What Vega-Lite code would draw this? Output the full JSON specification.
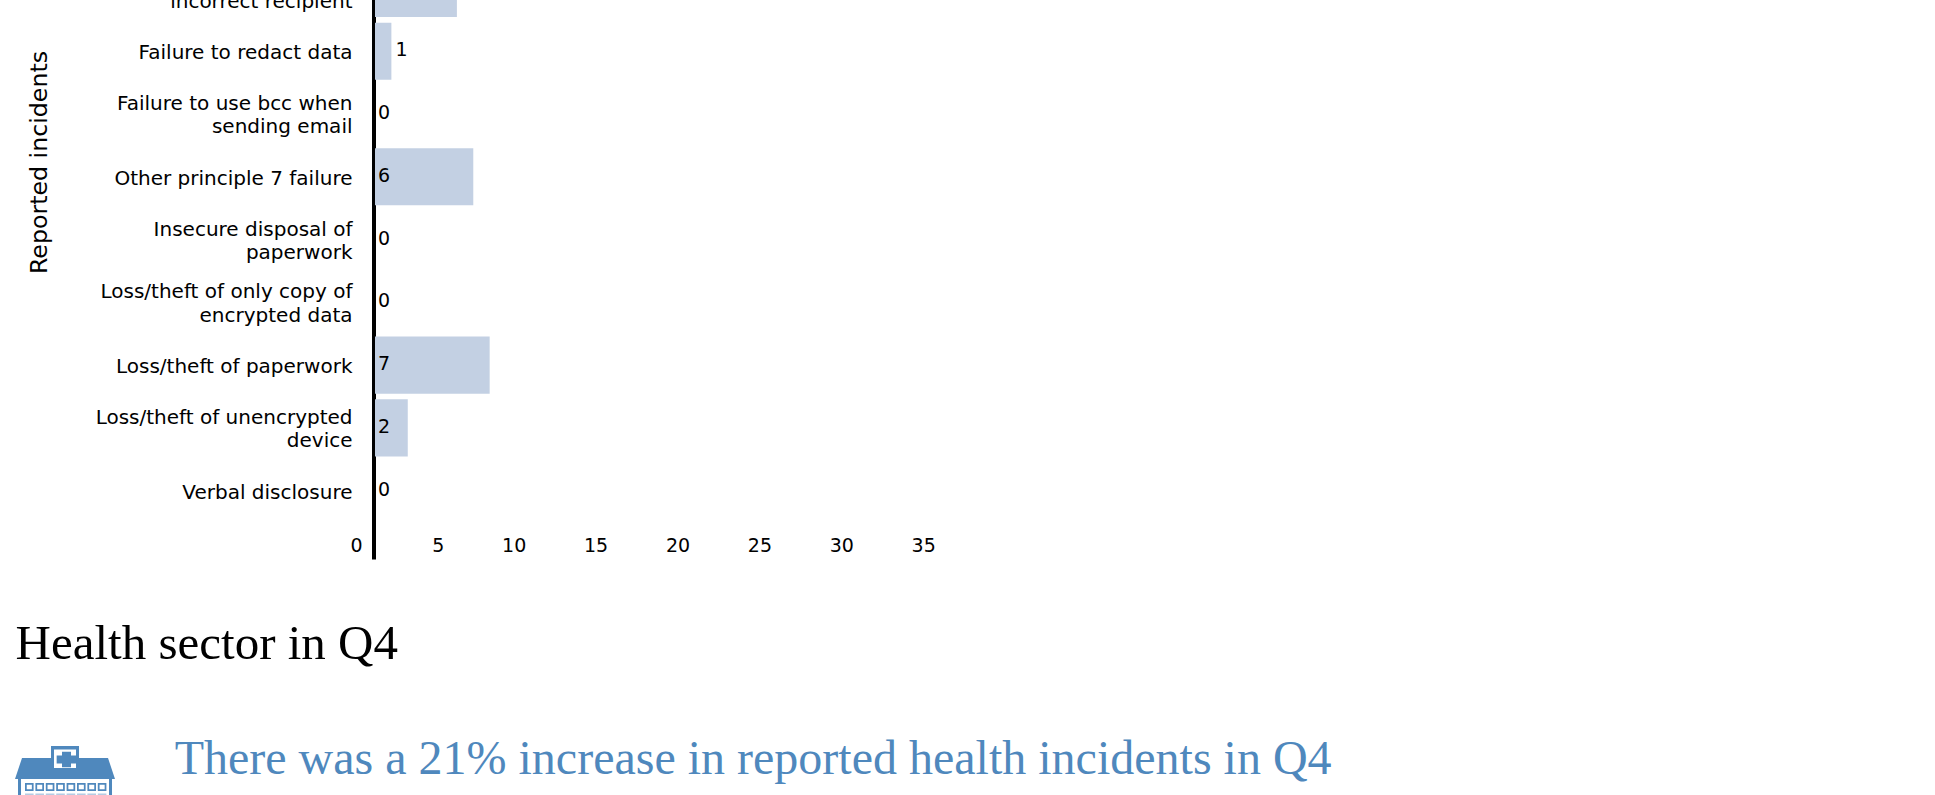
{
"$schema":"https://vega.github.io/schema/vega-lite/v6.json",
"width":1560,"height":559,
"autosize":{"type":"none"},
"padding":{"left":375,"top":0,"right":0,"bottom":236},
"background":"white",
"config":{"view":{"stroke":null}},
"datasets":{
"rows":[
{"cat":"Data posted or faxed to|incorrect recipient","n":5},
{"cat":"Failure to redact data","n":1},
{"cat":"Failure to use bcc when|sending email","n":0},
{"cat":"Other principle 7 failure","n":6},
{"cat":"Insecure disposal of|paperwork","n":0},
{"cat":"Loss/theft of only copy of|encrypted data","n":0},
{"cat":"Loss/theft of paperwork","n":7},
{"cat":"Loss/theft of unencrypted|device","n":2},
{"cat":"Verbal disclosure","n":0}
]},
"resolve":{"scale":{"y":"independent"}},
"layer":[
{"layer":[
{"data":{"name":"rows"},"mark":{"type":"bar","color":"#c3d0e3"},
"encoding":{
"y":{"field":"cat","type":"nominal","sort":null,"title":"Reported incidents",
"scale":{"range":[-43,559],"paddingInner":0.09,"paddingOuter":0.339,"align":0.0667},
"axis":{"orient":"left","offset":1.5,"domainWidth":4,"domainColor":"#000","ticks":false,"grid":false,"labelPadding":21.5,"labelFont":"DejaVu Sans","labelFontSize":20,"labelColor":"#000","labelLineHeight":23.5,"labelLimit":400,"labelExpr":"split(datum.label,'|')","labelOverlap":false,"labelOffset":{"condition":{"test":"indexof(datum.value,'|')>=0","value":-10},"value":2},"titleFont":"DejaVu Sans","titleFontSize":23.7,"titleFontWeight":"normal","titleColor":"#000","titleX":-322,"titleY":162}},
"x":{"field":"n","type":"quantitative","title":null,
"scale":{"domain":[0,35],"range":[0,573.3]},
"axis":{"values":[0,5,10,15,20,25,30,35],"domain":false,"ticks":false,"grid":false,"labelFont":"DejaVu Sans","labelFontSize":19,"labelColor":"#000","labelAlign":"right","labelBaseline":"middle","labelPadding":-14,"labelOffset":-13,"labelFlush":false,"labelOverlap":false}}
}},
{"data":{"name":"rows"},"transform":[{"filter":"datum.n!=1"}],"mark":{"type":"text","align":"left","baseline":"middle","dx":3,"dy":-1,"font":"DejaVu Sans","fontSize":19,"color":"#000"},
"encoding":{"y":{"field":"cat","type":"nominal","sort":null},"x":{"datum":0,"type":"quantitative"},"text":{"field":"n","type":"quantitative"}}},
{"data":{"name":"rows"},"transform":[{"filter":"datum.n==1"}],"mark":{"type":"text","align":"left","baseline":"middle","dx":4,"dy":-1,"font":"DejaVu Sans","fontSize":19,"color":"#000"},
"encoding":{"y":{"field":"cat","type":"nominal","sort":null},"x":{"field":"n","type":"quantitative"},"text":{"field":"n","type":"quantitative"}}}
]},
{"data":{"values":[{"label":"Health sector in Q4"}]},
"mark":{"type":"text","align":"left","baseline":"alphabetic","font":"Liberation Serif","fontSize":49,"color":"#000"},
"encoding":{"x":{"datum":-21.94,"type":"quantitative"},"y":{"datum":659,"type":"quantitative","scale":{"domain":[0,795],"range":[0,795]},"axis":null},"text":{"field":"label"}}},
{"data":{"values":[{"label":"There was a 21% increase in reported health incidents in Q4"}]},
"mark":{"type":"text","align":"left","baseline":"alphabetic","font":"Liberation Serif","fontSize":48,"color":"#4f88bd"},
"encoding":{"x":{"datum":-12.23,"type":"quantitative"},"y":{"datum":774,"type":"quantitative","scale":{"domain":[0,795],"range":[0,795]},"axis":null},"text":{"field":"label"}}},
{"data":{"values":[{"part":"pale"},{"part":"blue"},{"part":"white"},{"part":"cross"}]},
"mark":{"type":"point","filled":true,"size":10000,"opacity":1,"strokeWidth":0},
"encoding":{"x":{"datum":-18.925,"type":"quantitative"},"y":{"datum":770,"type":"quantitative","scale":{"domain":[0,795],"range":[0,795]},"axis":null},
"shape":{"field":"part","type":"nominal","legend":null,"scale":{"domain":["pale","blue","white","cross"],"range":[
"M-.8,.47h.172v.1h-.172ZM-.592,.47h.172v.1h-.172ZM-.384,.47h.172v.1h-.172ZM-.176,.47h.172v.1h-.172ZM.032,.47h.172v.1h-.172ZM.24,.47h.172v.1h-.172ZM.448,.47h.172v.1h-.172ZM.656,.47h.172v.1h-.172Z",
"M-1,.18L-.86,-.24L-.28,-.24L-.28,-.48L.28,-.48L.28,-.24L.86,-.24L1,.18ZM-.94,.18h.06v.5h-.06ZM.88,.18h.06v.5h-.06ZM-.8,.26h.172v.16h-.172ZM-.592,.26h.172v.16h-.172ZM-.384,.26h.172v.16h-.172ZM-.176,.26h.172v.16h-.172ZM.032,.26h.172v.16h-.172ZM.24,.26h.172v.16h-.172ZM.448,.26h.172v.16h-.172ZM.656,.26h.172v.16h-.172Z",
"M-.22,-.41H.22V-.04H-.22ZM-.765,.295h.102v.09h-.102ZM-.557,.295h.102v.09h-.102ZM-.349,.295h.102v.09h-.102ZM-.141,.295h.102v.09h-.102ZM.067,.295h.102v.09h-.102ZM.275,.295h.102v.09h-.102ZM.483,.295h.102v.09h-.102ZM.691,.295h.102v.09h-.102Z",
"M-.06,-.366H.12V-.29H.227V-.13H.12V-.054H-.06V-.13H-.167V-.29H-.06Z"]}},
"color":{"field":"part","type":"nominal","legend":null,"scale":{"domain":["pale","blue","white","cross"],"range":["#b5cce3","#4f88bd","#ffffff","#4f88bd"]}}}}
]
}
